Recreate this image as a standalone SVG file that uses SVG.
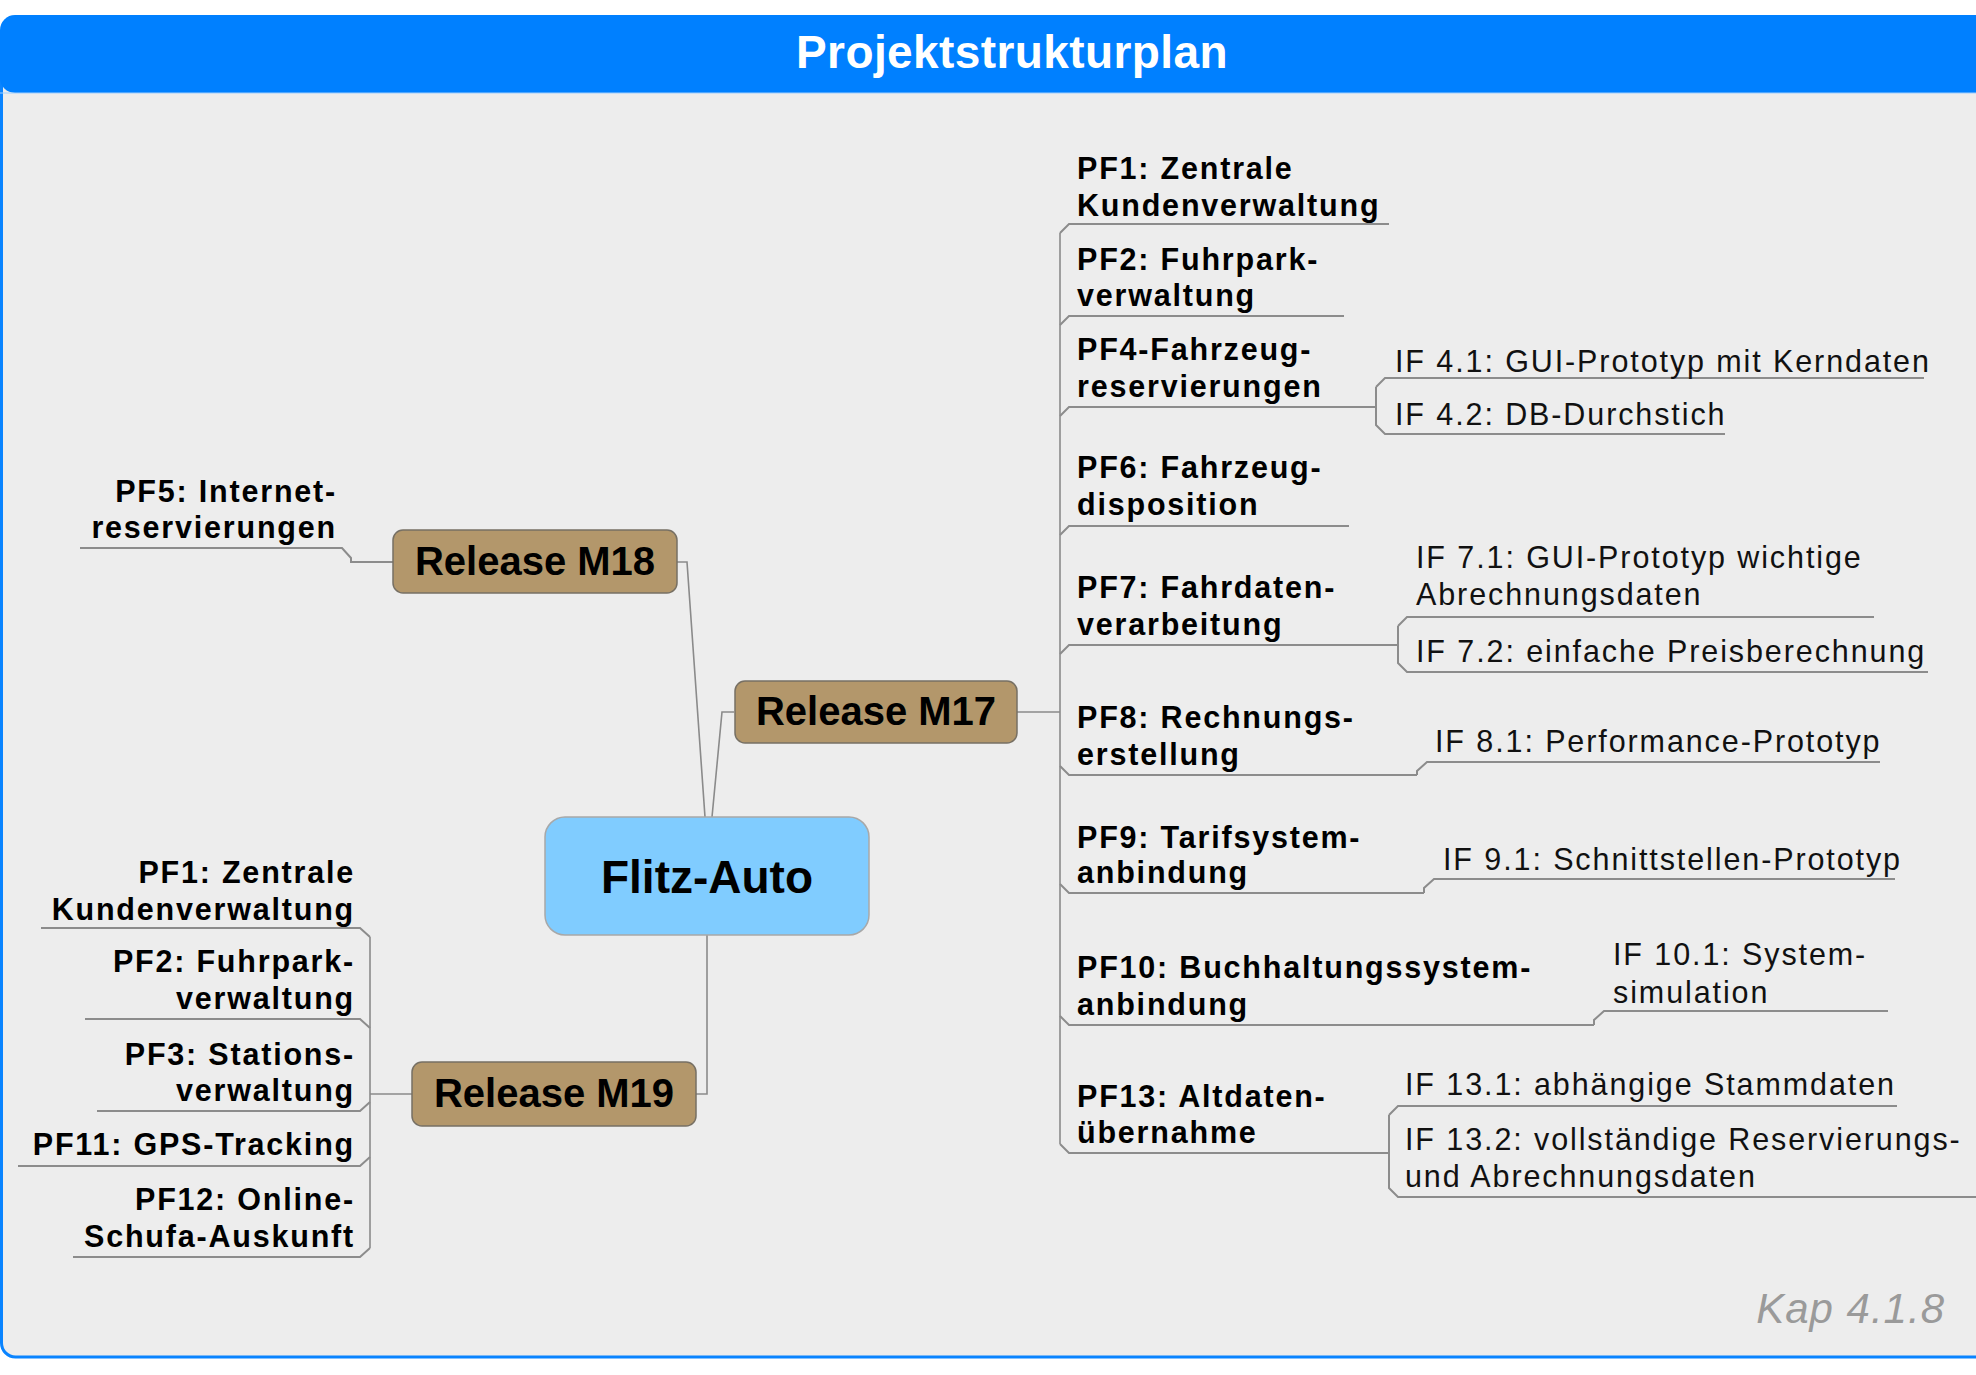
<svg xmlns="http://www.w3.org/2000/svg" width="1976" height="1375" viewBox="0 0 1976 1375">
<style>
.pf{font-family:"Liberation Sans",Arial,sans-serif;font-size:30.5px;font-weight:bold;letter-spacing:1.8px;fill:#000}
.pfl{font-family:"Liberation Sans",Arial,sans-serif;font-size:30.5px;font-weight:bold;letter-spacing:1.8px;fill:#000;text-anchor:end}
.if{font-family:"Liberation Sans",Arial,sans-serif;font-size:30.5px;letter-spacing:1.9px;fill:#111}
.rel{fill:#b3976b;stroke:#777064;stroke-width:1.5}
.reltxt{font-family:"Liberation Sans",Arial,sans-serif;font-size:40px;font-weight:bold;fill:#000;text-anchor:middle}
.ln{fill:none;stroke:#8a8a8a;stroke-width:1.6}
.ul{fill:none;stroke:#8c8c8c;stroke-width:2}
</style>
<rect x="0" y="0" width="1976" height="1375" fill="#ffffff"/>
<rect x="1.5" y="30" width="2100" height="1327" rx="14" fill="#ededed" stroke="#0a84ff" stroke-width="3"/>
<rect x="0" y="15" width="2100" height="78" rx="15" fill="#0080ff"/>
<line x1="0" y1="93" x2="1976" y2="93" stroke="#9fcfff" stroke-width="1"/>
<text x="1012" y="68" font-family="Liberation Sans,Arial,sans-serif" font-size="46" font-weight="bold" letter-spacing="0.4" fill="#ffffff" text-anchor="middle">Projektstrukturplan</text>

<g id="connectors">
  <path class="ln" d="M677,562 H687 L705,817"/>
  <path class="ln" d="M712,817 L722,712 H734"/>
  <path class="ln" d="M696,1094 H707 V935"/>
  <path class="ln" d="M1017,712 H1060"/>
  <path class="ln" d="M1060,233 V1144"/>
  <path class="ul" d="M1060,233 L1069,224 H1389"/>
  <path class="ul" d="M1060,325 L1069,316 H1344"/>
  <path class="ul" d="M1060,416 L1069,407 H1376"/>
  <path class="ul" d="M1060,535 L1069,526 H1349"/>
  <path class="ul" d="M1060,654 L1069,645 H1398"/>
  <path class="ul" d="M1060,766 L1069,775 H1417"/>
  <path class="ul" d="M1060,884 L1069,893 H1424"/>
  <path class="ul" d="M1060,1016 L1069,1025 H1594"/>
  <path class="ul" d="M1060,1144 L1069,1153 H1389"/>
  <path class="ul" d="M1376,387 L1385,378 H1924"/>
  <path class="ul" d="M1376,387 V425 L1385,434 H1725"/>
  <path class="ul" d="M1398,626 L1407,617 H1874"/>
  <path class="ul" d="M1398,626 V663 L1407,672 H1928"/>
  <path class="ul" d="M1417,775 V771 L1427,762 H1880"/>
  <path class="ul" d="M1424,893 V888 L1434,879 H1895"/>
  <path class="ul" d="M1594,1025 V1020 L1604,1011 H1888"/>
  <path class="ul" d="M1389,1115 L1398,1106 H1897"/>
  <path class="ul" d="M1389,1115 V1188 L1398,1197 H1980"/>
  <path class="ul" d="M393,562 H351 V558 L342,548 H80"/>
  <path class="ln" d="M412,1094 H370"/>
  <path class="ln" d="M370,937 V1248"/>
  <path class="ul" d="M370,937 L360,928 H41"/>
  <path class="ul" d="M370,1028 L360,1019 H85"/>
  <path class="ul" d="M370,1102 L360,1111 H97"/>
  <path class="ul" d="M370,1157 L360,1166 H18"/>
  <path class="ul" d="M370,1248 L360,1257 H73"/>
</g>

<g id="flitz-auto">
  <rect x="545" y="817" width="324" height="118" rx="20" fill="#80ccff" stroke="#a8a8a8" stroke-width="1.5"/>
  <text x="707" y="893" font-family="Liberation Sans,Arial,sans-serif" font-size="46" font-weight="bold" text-anchor="middle" fill="#000">Flitz-Auto</text>
</g>
<g id="release-m17">
  <rect class="rel" x="735" y="681" width="282" height="62" rx="10"/>
  <text class="reltxt" x="876" y="725">Release M17</text>
</g>
<g id="release-m18">
  <rect class="rel" x="393" y="530" width="284" height="63" rx="10"/>
  <text class="reltxt" x="535" y="575">Release M18</text>
</g>
<g id="release-m19">
  <rect class="rel" x="412" y="1062" width="284" height="64" rx="10"/>
  <text class="reltxt" x="554" y="1107">Release M19</text>
</g>

<g id="m17-pf1"><text class="pf" x="1077" y="179">PF1: Zentrale</text><text class="pf" x="1077" y="216">Kundenverwaltung</text></g>
<g id="m17-pf2"><text class="pf" x="1077" y="270">PF2: Fuhrpark-</text><text class="pf" x="1077" y="306">verwaltung</text></g>
<g id="m17-pf4"><text class="pf" x="1077" y="360">PF4-Fahrzeug-</text><text class="pf" x="1077" y="397">reservierungen</text></g>
<g id="m17-pf6"><text class="pf" x="1077" y="478">PF6: Fahrzeug-</text><text class="pf" x="1077" y="515">disposition</text></g>
<g id="m17-pf7"><text class="pf" x="1077" y="598">PF7: Fahrdaten-</text><text class="pf" x="1077" y="635">verarbeitung</text></g>
<g id="m17-pf8"><text class="pf" x="1077" y="728">PF8: Rechnungs-</text><text class="pf" x="1077" y="765">erstellung</text></g>
<g id="m17-pf9"><text class="pf" x="1077" y="848">PF9: Tarifsystem-</text><text class="pf" x="1077" y="883">anbindung</text></g>
<g id="m17-pf10"><text class="pf" x="1077" y="978">PF10: Buchhaltungssystem-</text><text class="pf" x="1077" y="1015">anbindung</text></g>
<g id="m17-pf13"><text class="pf" x="1077" y="1107">PF13: Altdaten-</text><text class="pf" x="1077" y="1143">übernahme</text></g>

<g id="if41"><text class="if" x="1395" y="372">IF 4.1: GUI-Prototyp mit Kerndaten</text></g>
<g id="if42"><text class="if" x="1395" y="425">IF 4.2: DB-Durchstich</text></g>
<g id="if71"><text class="if" x="1416" y="568">IF 7.1: GUI-Prototyp wichtige</text><text class="if" x="1416" y="605">Abrechnungsdaten</text></g>
<g id="if72"><text class="if" x="1416" y="662">IF 7.2: einfache Preisberechnung</text></g>
<g id="if81"><text class="if" x="1435" y="752">IF 8.1: Performance-Prototyp</text></g>
<g id="if91"><text class="if" x="1443" y="870">IF 9.1: Schnittstellen-Prototyp</text></g>
<g id="if101"><text class="if" x="1613" y="965">IF 10.1: System-</text><text class="if" x="1613" y="1003">simulation</text></g>
<g id="if131"><text class="if" x="1405" y="1095">IF 13.1: abhängige Stammdaten</text></g>
<g id="if132"><text class="if" x="1405" y="1150">IF 13.2: vollständige Reservierungs-</text><text class="if" x="1405" y="1187">und Abrechnungsdaten</text></g>

<g id="m18-pf5"><text class="pfl" x="337" y="502">PF5: Internet-</text><text class="pfl" x="337" y="538">reservierungen</text></g>
<g id="m19-pf1"><text class="pfl" x="355" y="883">PF1: Zentrale</text><text class="pfl" x="355" y="920">Kundenverwaltung</text></g>
<g id="m19-pf2"><text class="pfl" x="355" y="972">PF2: Fuhrpark-</text><text class="pfl" x="355" y="1009">verwaltung</text></g>
<g id="m19-pf3"><text class="pfl" x="355" y="1065">PF3: Stations-</text><text class="pfl" x="355" y="1101">verwaltung</text></g>
<g id="m19-pf11"><text class="pfl" x="355" y="1155">PF11: GPS-Tracking</text></g>
<g id="m19-pf12"><text class="pfl" x="355" y="1210">PF12: Online-</text><text class="pfl" x="355" y="1247">Schufa-Auskunft</text></g>

<text x="1945" y="1323" font-family="Liberation Sans,Arial,sans-serif" font-size="42" font-style="italic" letter-spacing="1" fill="#9a9a9a" text-anchor="end">Kap 4.1.8</text>
</svg>
